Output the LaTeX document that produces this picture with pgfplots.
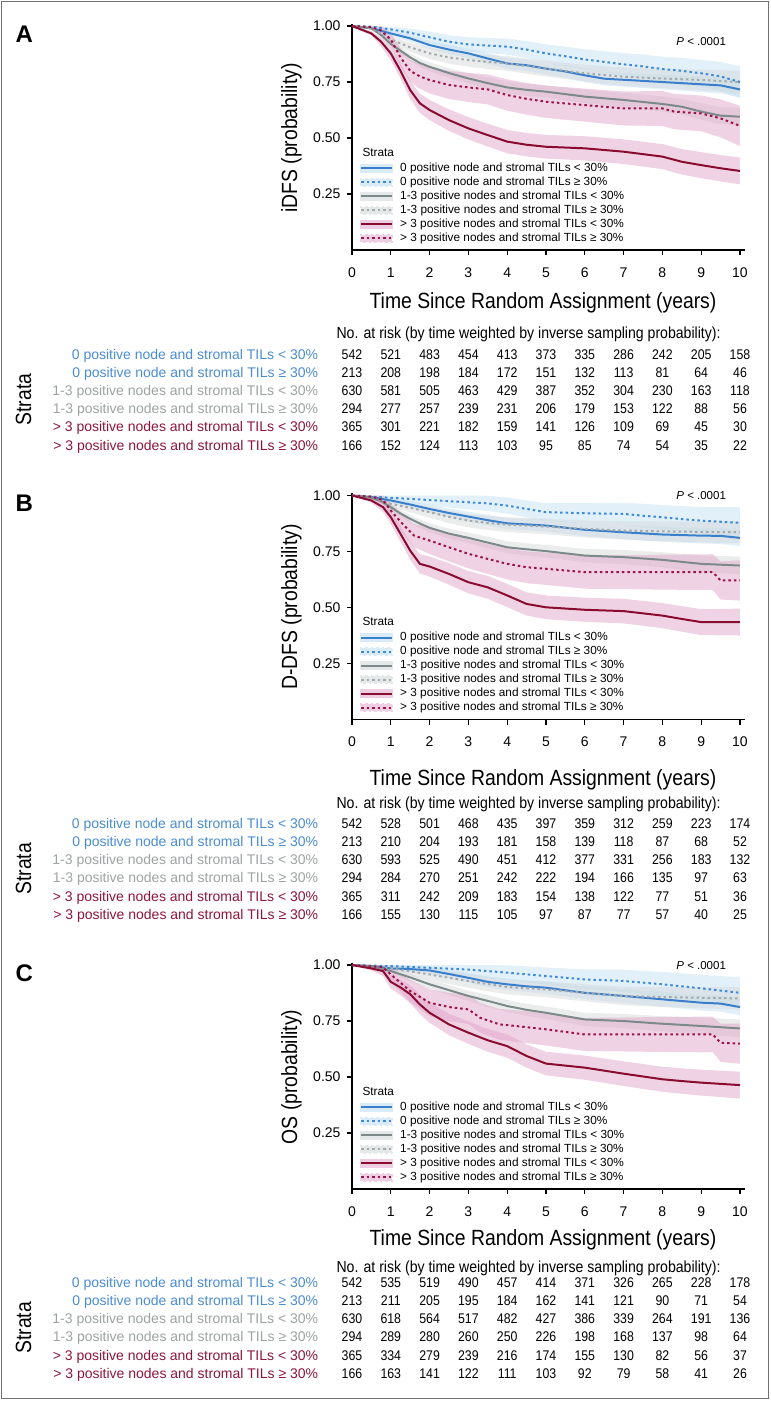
\documentclass[border=0pt]{standalone}
\usepackage{fontspec}
\setmainfont{Liberation Sans}
\newfontfamily\cond[FakeStretch=0.88]{Liberation Sans}
\usepackage{pgfplots}
\usepackage{pgfplotstable}
\pgfplotsset{compat=1.18}
\usepgfplotslibrary{fillbetween}

\definecolor{cBS}{HTML}{3A7FCC}
\definecolor{cBD}{HTML}{3D8AD8}
\definecolor{cGS}{HTML}{7D8A8A}
\definecolor{cGD}{HTML}{A4AAAA}
\definecolor{cRS}{HTML}{8A0B30}
\definecolor{cRD}{HTML}{9C1446}
\definecolor{bandB}{HTML}{BFDDF2}
\definecolor{bandG}{HTML}{D3D8D8}
\definecolor{bandR}{HTML}{DE9CC6}
\definecolor{txtB}{HTML}{4A8CD2}
\definecolor{txtG}{HTML}{9DA2A2}
\definecolor{txtR}{HTML}{8C1539}
\definecolor{frame}{HTML}{707070}

\pgfplotsset{
  km/.style={
    width=393pt, height=226.2pt, scale only axis, clip=false,
    xmin=0, xmax=10.13, ymin=0, ymax=1.01,
    axis x line=bottom, axis y line=left,
    axis line style={-, line width=1.8pt},
    xtick={0,...,10}, ytick={0.25,0.5,0.75,1},
    yticklabel style={/pgf/number format/fixed, /pgf/number format/fixed zerofill, /pgf/number format/precision=2},
    xticklabel shift=9pt, yticklabel shift=3pt,
    tick align=outside, major tick length=5pt,
    tick style={black, line width=1.3pt},
    ticklabel style={font=\fontsize{14}{14}\selectfont},
    /pgf/number format/assume math mode=true,
    legend cell align=left,
    legend style={draw=none, fill=none, at={(axis cs:0.206,0.397)}, anchor=north west,
      font=\fontsize{11.8}{13}\selectfont, inner sep=0pt, row sep=0pt,
      nodes={inner ysep=1pt, inner xsep=0pt, text height=9pt, text depth=3pt}},
    legend style={/tikz/every odd column/.append style={column sep=7pt}},
  },
  sBS/.style={cBS, line width=2pt, legend image code/.code={\fill[bandB!60] (0pt,-3.5pt) rectangle (31pt,3.5pt); \draw[##1] (0pt,0pt) -- (31pt,0pt);}},
  sBD/.style={cBD, line width=2pt, dash pattern=on 2.5pt off 3pt, legend image code/.code={\fill[bandB!60] (0pt,-3.5pt) rectangle (31pt,3.5pt); \draw[##1] (0pt,0pt) -- (31pt,0pt);}},
  sGS/.style={cGS, line width=2pt, legend image code/.code={\fill[bandG!60] (0pt,-3.5pt) rectangle (31pt,3.5pt); \draw[##1] (0pt,0pt) -- (31pt,0pt);}},
  sGD/.style={cGD, line width=2pt, dash pattern=on 2.5pt off 3pt, legend image code/.code={\fill[bandG!60] (0pt,-3.5pt) rectangle (31pt,3.5pt); \draw[##1] (0pt,0pt) -- (31pt,0pt);}},
  sRS/.style={cRS, line width=2pt, legend image code/.code={\fill[bandR!50] (0pt,-3.5pt) rectangle (31pt,3.5pt); \draw[##1] (0pt,0pt) -- (31pt,0pt);}},
  sRD/.style={cRD, line width=2pt, dash pattern=on 2.5pt off 3pt, legend image code/.code={\fill[bandR!50] (0pt,-3.5pt) rectangle (31pt,3.5pt); \draw[##1] (0pt,0pt) -- (31pt,0pt);}},
}

% ---------- panel A (iDFS) ----------
\pgfplotstableread{
t s lo hi
0 1 1 1
0.5 0.99 0.984 0.996
1 0.967 0.955 0.979
1.5 0.945 0.930 0.960
2 0.915 0.897 0.933
2.5 0.895 0.875 0.915
3 0.878 0.856 0.900
3.5 0.855 0.831 0.879
4 0.833 0.808 0.858
4.5 0.825 0.799 0.851
5 0.81 0.783 0.837
5.5 0.797 0.769 0.825
6 0.78 0.751 0.809
6.5 0.765 0.735 0.795
7 0.76 0.729 0.791
8 0.75 0.717 0.783
9 0.74 0.705 0.775
9.5 0.735 0.699 0.771
10 0.717 0.680 0.754
}\tABS
\pgfplotstableread{
t s lo hi
0 1 1 1
0.5 0.997 0.991 1.0
1 0.985 0.973 0.997
1.5 0.97 0.952 0.988
2 0.95 0.925 0.975
2.5 0.93 0.901 0.959
3 0.918 0.886 0.950
4 0.908 0.872 0.944
4.5 0.895 0.857 0.933
5 0.878 0.838 0.918
5.5 0.865 0.822 0.908
6 0.851 0.806 0.896
6.5 0.84 0.792 0.888
7 0.829 0.779 0.879
7.5 0.82 0.767 0.873
8 0.808 0.753 0.863
8.5 0.80 0.742 0.858
9 0.789 0.729 0.849
9.5 0.775 0.710 0.840
10 0.75 0.680 0.820
}\tABD
\pgfplotstableread{
t s lo hi
0 1 1 1
0.5 0.99 0.984 0.996
0.75 0.96 0.95 0.97
1 0.92 0.905 0.935
1.25 0.89 0.874 0.906
1.5 0.86 0.843 0.877
1.75 0.835 0.816 0.854
2 0.818 0.798 0.838
2.5 0.79 0.768 0.812
3 0.766 0.742 0.790
3.5 0.745 0.719 0.771
4 0.726 0.699 0.753
4.5 0.715 0.688 0.742
5 0.707 0.679 0.735
6 0.685 0.655 0.715
7 0.67 0.638 0.702
8 0.652 0.618 0.686
8.5 0.64 0.605 0.675
9 0.618 0.581 0.655
9.5 0.60 0.562 0.638
10 0.595 0.555 0.635
}\tAGS
\pgfplotstableread{
t s lo hi
0 1 1 1
0.5 0.99 0.983 0.997
1 0.94 0.925 0.955
1.5 0.905 0.885 0.925
2 0.878 0.853 0.903
2.5 0.86 0.832 0.888
3 0.848 0.818 0.878
3.5 0.84 0.808 0.872
4 0.833 0.800 0.866
5 0.81 0.775 0.845
6 0.789 0.751 0.827
7 0.774 0.733 0.815
8 0.766 0.722 0.810
9 0.759 0.712 0.806
10 0.75 0.700 0.800
}\tAGD
\pgfplotstableread{
t s lo hi
0 1 1 1
0.5 0.967 0.957 0.977
0.75 0.93 0.91 0.95
1 0.878 0.848 0.908
1.25 0.80 0.765 0.835
1.5 0.714 0.674 0.754
1.75 0.655 0.612 0.698
2 0.625 0.58 0.67
2.5 0.58 0.532 0.628
3 0.543 0.493 0.593
3.5 0.513 0.462 0.564
4 0.484 0.432 0.536
4.5 0.47 0.418 0.522
5 0.461 0.408 0.514
6 0.454 0.40 0.508
7 0.439 0.384 0.494
8 0.417 0.361 0.473
8.5 0.394 0.337 0.451
9 0.379 0.321 0.437
9.5 0.365 0.306 0.424
10 0.353 0.293 0.413
}\tARS
\pgfplotstableread{
t s lo hi
0 1 1 1
0.5 0.995 0.985 1.0
0.75 0.98 0.96 1.0
1 0.94 0.91 0.97
1.25 0.86 0.82 0.90
1.5 0.80 0.75 0.85
1.75 0.775 0.72 0.83
2 0.759 0.699 0.819
2.5 0.737 0.674 0.80
3 0.726 0.661 0.791
3.5 0.717 0.65 0.784
4 0.692 0.622 0.762
4.5 0.675 0.604 0.746
5 0.662 0.59 0.734
6 0.647 0.573 0.721
7 0.632 0.556 0.708
8 0.632 0.554 0.71
8.3 0.618 0.539 0.697
9 0.61 0.53 0.69
9.5 0.588 0.503 0.673
10 0.554 0.464 0.644
}\tARD

% ---------- panel B (D-DFS) ----------
\pgfplotstableread{
t s lo hi
0 1 1 1
0.5 0.993 0.987 0.999
1 0.978 0.966 0.99
1.5 0.96 0.945 0.975
2 0.94 0.922 0.958
2.5 0.922 0.902 0.942
3 0.906 0.884 0.928
3.5 0.89 0.866 0.914
4 0.876 0.851 0.901
5 0.866 0.839 0.893
6 0.847 0.818 0.876
7 0.836 0.805 0.867
8 0.826 0.793 0.859
9 0.821 0.786 0.856
9.5 0.82 0.784 0.856
10 0.811 0.774 0.848
}\tBBS
\pgfplotstableread{
t s lo hi
0 1 1 1
1 0.99 0.978 1.0
2 0.98 0.955 1.0
3 0.97 0.938 1.0
3.5 0.965 0.931 0.999
4 0.955 0.919 0.991
4.5 0.94 0.902 0.978
5 0.926 0.886 0.966
6 0.921 0.876 0.966
7 0.918 0.868 0.968
7.5 0.91 0.857 0.963
8 0.903 0.848 0.958
8.5 0.895 0.837 0.953
9 0.888 0.828 0.948
10 0.878 0.808 0.948
}\tBBD
\pgfplotstableread{
t s lo hi
0 1 1 1
0.5 0.99 0.984 0.996
0.75 0.975 0.965 0.985
1 0.948 0.933 0.963
1.25 0.92 0.904 0.936
1.5 0.896 0.879 0.913
1.75 0.875 0.856 0.894
2 0.856 0.836 0.876
2.5 0.83 0.808 0.852
3 0.811 0.787 0.835
3.5 0.79 0.764 0.816
4 0.769 0.742 0.796
4.5 0.76 0.733 0.787
5 0.752 0.724 0.78
6 0.732 0.702 0.762
7 0.725 0.693 0.757
8 0.713 0.679 0.747
9 0.695 0.658 0.732
10 0.6875 0.648 0.728
}\tBGS
\pgfplotstableread{
t s lo hi
0 1 1 1
0.5 0.995 0.988 1.0
1 0.963 0.948 0.978
1.5 0.945 0.925 0.965
2 0.926 0.901 0.951
2.5 0.905 0.877 0.933
3 0.888 0.858 0.918
3.5 0.878 0.846 0.91
4 0.87 0.837 0.903
5 0.862 0.827 0.897
6 0.851 0.813 0.889
7 0.844 0.803 0.885
8 0.84 0.796 0.884
9 0.838 0.791 0.885
10 0.836 0.786 0.886
}\tBGD
\pgfplotstableread{
t s lo hi
0 1 1 1
0.5 0.978 0.968 0.988
0.8 0.948 0.926 0.97
1 0.903 0.873 0.933
1.25 0.829 0.794 0.864
1.5 0.754 0.714 0.794
1.75 0.695 0.652 0.738
2 0.683 0.638 0.728
2.5 0.65 0.602 0.698
3 0.613 0.563 0.663
3.5 0.59 0.539 0.641
4 0.554 0.502 0.606
4.5 0.516 0.464 0.568
5 0.501 0.448 0.554
6 0.49 0.436 0.544
7 0.484 0.429 0.539
8 0.464 0.408 0.52
8.5 0.449 0.392 0.506
9 0.435 0.377 0.493
10 0.435 0.375 0.495
}\tBRS
\pgfplotstableread{
t s lo hi
0 1 1 1
0.5 0.995 0.985 1.0
0.8 0.98 0.956 1.0
1 0.933 0.903 0.963
1.3 0.874 0.832 0.916
1.6 0.821 0.769 0.873
2 0.799 0.739 0.859
2.5 0.769 0.706 0.832
3 0.74 0.675 0.805
3.5 0.717 0.65 0.784
4 0.695 0.625 0.765
4.5 0.68 0.609 0.751
5 0.673 0.601 0.745
6 0.658 0.584 0.732
7 0.658 0.582 0.734
8 0.658 0.58 0.736
9.3 0.658 0.578 0.738
9.5 0.621 0.536 0.706
10 0.621 0.531 0.711
}\tBRD

% ---------- panel C (OS) ----------
\pgfplotstableread{
t s lo hi
0 1 1 1
0.5 0.995 0.989 1.0
1 0.985 0.973 0.997
1.5 0.982 0.967 0.997
2 0.976 0.958 0.994
2.5 0.96 0.94 0.98
3 0.943 0.921 0.965
3.5 0.925 0.901 0.949
4 0.914 0.889 0.939
4.5 0.905 0.879 0.931
5 0.899 0.872 0.926
6 0.876 0.847 0.905
7 0.862 0.831 0.893
8 0.847 0.814 0.88
9 0.832 0.797 0.867
9.5 0.828 0.792 0.864
10 0.8125 0.776 0.85
}\tCBS
\pgfplotstableread{
t s lo hi
0 1 1 1
1 0.995 0.985 1.0
2 0.988 0.968 1.0
3 0.98 0.952 1.0
4 0.966 0.933 0.999
5 0.951 0.913 0.989
6 0.936 0.891 0.981
7 0.929 0.879 0.979
8 0.914 0.859 0.969
8.5 0.905 0.847 0.963
9 0.896 0.836 0.956
10 0.876 0.806 0.946
}\tCBD
\pgfplotstableread{
t s lo hi
0 1 1 1
0.5 0.995 0.989 1.0
1 0.973 0.958 0.988
1.5 0.945 0.928 0.962
2 0.914 0.894 0.934
2.5 0.888 0.866 0.91
3 0.862 0.838 0.886
3.5 0.84 0.814 0.866
4 0.817 0.79 0.844
4.5 0.80 0.773 0.827
5 0.787 0.759 0.815
5.5 0.772 0.743 0.801
6 0.757 0.727 0.787
7 0.75 0.718 0.782
8 0.738 0.704 0.772
9 0.728 0.691 0.765
10 0.717 0.677 0.757
}\tCGS
\pgfplotstableread{
t s lo hi
0 1 1 1
1 0.985 0.97 1.0
1.5 0.972 0.952 0.992
2 0.958 0.933 0.983
2.5 0.943 0.915 0.971
3 0.929 0.899 0.959
3.5 0.915 0.883 0.947
4 0.902 0.869 0.935
5 0.891 0.856 0.926
6 0.876 0.838 0.914
7 0.862 0.821 0.903
8 0.857 0.813 0.901
9 0.854 0.807 0.901
10 0.851 0.801 0.901
}\tCGD
\pgfplotstableread{
t s lo hi
0 1 1 1
0.5 0.985 0.975 0.995
0.8 0.973 0.951 0.995
1 0.925 0.895 0.955
1.25 0.90 0.865 0.935
1.5 0.87 0.83 0.91
1.75 0.824 0.781 0.867
2 0.787 0.742 0.832
2.5 0.735 0.687 0.783
3 0.698 0.648 0.748
3.5 0.664 0.613 0.715
4 0.638 0.586 0.69
4.5 0.594 0.542 0.646
5 0.56 0.507 0.613
6 0.542 0.488 0.596
7 0.515 0.46 0.57
8 0.49 0.434 0.546
8.5 0.482 0.425 0.539
9 0.475 0.417 0.533
10 0.464 0.404 0.524
}\tCRS
\pgfplotstableread{
t s lo hi
0 1 1 1
0.8 0.99 0.97 1.0
1 0.958 0.928 0.988
1.5 0.884 0.834 0.934
2 0.832 0.772 0.892
2.5 0.8125 0.75 0.876
3 0.802 0.737 0.867
3.3 0.765 0.699 0.831
3.8 0.735 0.666 0.804
4 0.732 0.662 0.802
5 0.713 0.641 0.785
6 0.69 0.616 0.764
7 0.69 0.614 0.766
8 0.69 0.612 0.768
9.3 0.69 0.61 0.77
9.5 0.653 0.568 0.738
10 0.649 0.559 0.739
}\tCRD

\newcommand{\band}[3]{%
  \addplot[name path=hi#3, draw=none, forget plot] table[x=t, y=hi]{#1};
  \addplot[name path=lo#3, draw=none, forget plot] table[x=t, y=lo]{#1};
  \addplot[fill=#2, fill opacity=0.45, draw=none, forget plot] fill between[of=hi#3 and lo#3];
}
\newcommand{\kmcurves}[6]{%
  \band{#2}{bandB}{bd}
  \band{#1}{bandB}{bs}
  \band{#4}{bandG}{gd}
  \band{#3}{bandG}{gs}
  \band{#6}{bandR}{rd}
  \band{#5}{bandR}{rs}
  \addplot[sBS] table[x=t, y=s]{#1};
  \addlegendentry{0 positive node and stromal TILs < 30\%}
  \addplot[sBD] table[x=t, y=s]{#2};
  \addlegendentry{0 positive node and stromal TILs ≥ 30\%}
  \addplot[sGS] table[x=t, y=s]{#3};
  \addlegendentry{1-3 positive nodes and stromal TILs < 30\%}
  \addplot[sGD] table[x=t, y=s]{#4};
  \addlegendentry{1-3 positive nodes and stromal TILs ≥ 30\%}
  \addplot[sRS] table[x=t, y=s]{#5};
  \addlegendentry{> 3 positive nodes and stromal TILs < 30\%}
  \addplot[sRD] table[x=t, y=s]{#6};
  \addlegendentry{> 3 positive nodes and stromal TILs ≥ 30\%}
  \node[anchor=west, font=\fontsize{11.8}{13}\selectfont] at (axis cs:0.18,0.4375) {Strata};
}
\newcommand{\riskrow}[4]{%
  \node[anchor=base east, text=#2, font=\fontsize{14}{14}\selectfont] at (321.7,#1+5) {#3};
  \foreach \v [count=\i from 0] in {#4} {\node[anchor=base, font=\cond\fontsize{14}{14}\selectfont] at ({352+38.8*\i},#1+5) {\v};}
}
\newcommand{\risk}[8]{%
  \node[anchor=base west, font=\cond\fontsize{16}{16}\selectfont] at (333,#1+5.7) {No. at risk (by time weighted by inverse sampling probability):};
  \riskrow{#2}{txtB}{0 positive node and stromal TILs < 30\%}{#3}
  \riskrow{#2+18.2}{txtB}{0 positive node and stromal TILs ≥ 30\%}{#4}
  \riskrow{#2+36.4}{txtG}{1-3 positive nodes and stromal TILs < 30\%}{#5}
  \riskrow{#2+54.6}{txtG}{1-3 positive nodes and stromal TILs ≥ 30\%}{#6}
  \riskrow{#2+72.8}{txtR}{> 3 positive nodes and stromal TILs < 30\%}{#7}
  \riskrow{#2+91}{txtR}{> 3 positive nodes and stromal TILs ≥ 30\%}{#8}
  \node[rotate=90, anchor=base, font=\cond\fontsize{22}{22}\selectfont] at (31,#2+45.5) {Strata};
}

\begin{document}
\begin{tikzpicture}
\begin{scope}[x=1pt,y=-1pt]
\useasboundingbox (0,0) rectangle (771,1401);
\draw[frame, line width=1.5pt] (1.5,1.5) rectangle (768.5,1398.5);
\end{scope}

\begin{axis}[km, at={(352pt,-250pt)}, anchor=south west]
\kmcurves{\tABS}{\tABD}{\tAGS}{\tAGD}{\tARS}{\tARD}
\node[font=\fontsize{11.5}{12}\selectfont] at (axis cs:9,0.93) {\textit{P} < .0001};
\end{axis}

\begin{axis}[km, at={(352pt,-719.5pt)}, anchor=south west]
\kmcurves{\tBBS}{\tBBD}{\tBGS}{\tBGD}{\tBRS}{\tBRD}
\node[font=\fontsize{11.5}{12}\selectfont] at (axis cs:9,0.999) {\textit{P} < .0001};
\end{axis}

\begin{axis}[km, at={(352pt,-1189pt)}, anchor=south west]
\kmcurves{\tCBS}{\tCBD}{\tCGS}{\tCGD}{\tCRS}{\tCRD}
\node[font=\fontsize{11.5}{12}\selectfont] at (axis cs:9,0.999) {\textit{P} < .0001};
\end{axis}

\begin{scope}[x=1pt,y=-1pt]
% panel A
\node[anchor=base west, font=\bfseries\fontsize{24}{24}\selectfont] at (12,42) {A};
\node[rotate=90, anchor=base, font=\cond\fontsize{22}{22}\selectfont] at (297,138) {iDFS (probability)};
\node[anchor=base, font=\cond\fontsize{22}{22}\selectfont] at (543,308) {Time Since Random Assignment (years)};
\risk{332.7}{354}{542,521,483,454,413,373,335,286,242,205,158}{213,208,198,184,172,151,132,113,81,64,46}{630,581,505,463,429,387,352,304,230,163,118}{294,277,257,239,231,206,179,153,122,88,56}{365,301,221,182,159,141,126,109,69,45,30}{166,152,124,113,103,95,85,74,54,35,22}
% panel B
\node[anchor=base west, font=\bfseries\fontsize{24}{24}\selectfont] at (12,511) {B};
\node[rotate=90, anchor=base, font=\cond\fontsize{22}{22}\selectfont] at (297,607) {D-DFS (probability)};
\node[anchor=base, font=\cond\fontsize{22}{22}\selectfont] at (543,785) {Time Since Random Assignment (years)};
\risk{802.7}{823.3}{542,528,501,468,435,397,359,312,259,223,174}{213,210,204,193,181,158,139,118,87,68,52}{630,593,525,490,451,412,377,331,256,183,132}{294,284,270,251,242,222,194,166,135,97,63}{365,311,242,209,183,154,138,122,77,51,36}{166,155,130,115,105,97,87,77,57,40,25}
% panel C
\node[anchor=base west, font=\bfseries\fontsize{24}{24}\selectfont] at (12,981) {C};
\node[rotate=90, anchor=base, font=\cond\fontsize{22}{22}\selectfont] at (297,1077) {OS (probability)};
\node[anchor=base, font=\cond\fontsize{22}{22}\selectfont] at (543,1245) {Time Since Random Assignment (years)};
\risk{1266.7}{1282.3}{542,535,519,490,457,414,371,326,265,228,178}{213,211,205,195,184,162,141,121,90,71,54}{630,618,564,517,482,427,386,339,264,191,136}{294,289,280,260,250,226,198,168,137,98,64}{365,334,279,239,216,174,155,130,82,56,37}{166,163,141,122,111,103,92,79,58,41,26}
\end{scope}
\end{tikzpicture}
\end{document}
